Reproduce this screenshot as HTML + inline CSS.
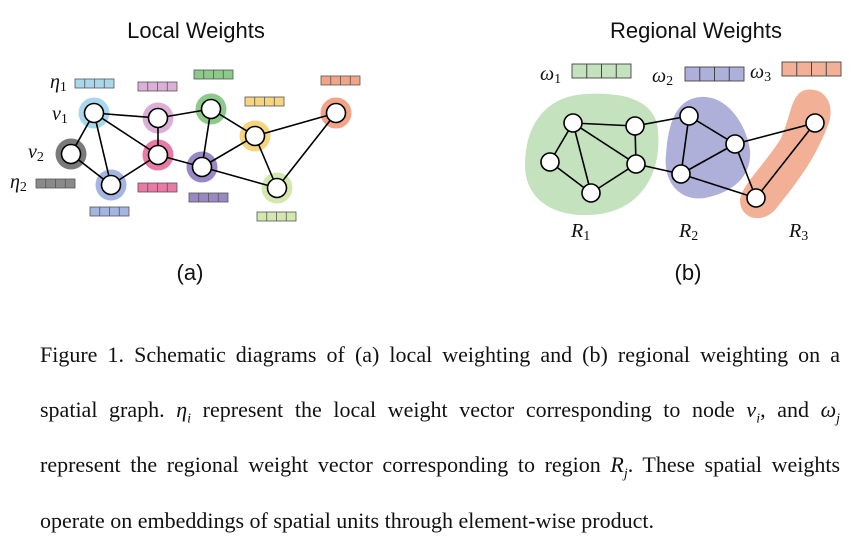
<!DOCTYPE html>
<html><head><meta charset="utf-8"><style>
body{margin:0;background:#fff;width:860px;height:552px;overflow:hidden;position:relative}
svg{position:absolute;left:0;top:0}
.cap{position:absolute;left:40px;width:800px;font-family:"Liberation Serif",serif;font-size:22px;line-height:24px;color:#111;white-space:nowrap}
.j{text-align:justify;text-align-last:justify}
i{font-style:italic}
sub{font-size:14px;line-height:0}
</style></head><body>
<svg width="860" height="300" viewBox="0 0 860 300" font-family="Liberation Sans, sans-serif">
<defs>
<g id="bar"><rect x="0" y="0" width="39" height="9" stroke="#555" stroke-width="0.8"/><line x1="9.75" y1="0" x2="9.75" y2="9" stroke="#555" stroke-width="0.8"/><line x1="19.5" y1="0" x2="19.5" y2="9" stroke="#555" stroke-width="0.8"/><line x1="29.25" y1="0" x2="29.25" y2="9" stroke="#555" stroke-width="0.8"/></g>
<g id="barw"><rect x="0" y="0" width="59" height="14" stroke="#444" stroke-width="0.9"/><line x1="14.75" y1="0" x2="14.75" y2="14" stroke="#444"/><line x1="29.5" y1="0" x2="29.5" y2="14" stroke="#444"/><line x1="44.25" y1="0" x2="44.25" y2="14" stroke="#444"/></g>
</defs>
<text x="196" y="38" font-size="22" text-anchor="middle" fill="#111">Local Weights</text>
<text x="696" y="38" font-size="22" text-anchor="middle" fill="#111">Regional Weights</text>
<text x="190" y="280" font-size="22" text-anchor="middle" fill="#111">(a)</text>
<text x="688" y="280" font-size="22" text-anchor="middle" fill="#111">(b)</text>
<g stroke-width="0">
<circle cx="94" cy="113" r="15.5" fill="#a9d8ec"/>
<circle cx="71" cy="154" r="15.5" fill="#7a7a7a"/>
<circle cx="111" cy="185" r="15.5" fill="#a3b5e0"/>
<circle cx="158" cy="118" r="15.5" fill="#dcb0d6"/>
<circle cx="158" cy="155" r="15.5" fill="#e87aa6"/>
<circle cx="211" cy="109" r="15.5" fill="#8cc98a"/>
<circle cx="202" cy="167" r="15.5" fill="#9a88c4"/>
<circle cx="255" cy="136" r="15.5" fill="#f5d67e"/>
<circle cx="336" cy="113" r="15.5" fill="#f3a486"/>
<circle cx="277" cy="188" r="15.5" fill="#d3e8ae"/>
</g>
<g stroke="#000" stroke-width="1.6">
<line x1="94" y1="113" x2="71" y2="154"/><line x1="94" y1="113" x2="111" y2="185"/><line x1="94" y1="113" x2="158" y2="118"/><line x1="94" y1="113" x2="158" y2="155"/>
<line x1="71" y1="154" x2="111" y2="185"/><line x1="111" y1="185" x2="158" y2="155"/><line x1="158" y1="118" x2="158" y2="155"/><line x1="158" y1="118" x2="211" y2="109"/>
<line x1="158" y1="155" x2="202" y2="167"/><line x1="211" y1="109" x2="202" y2="167"/><line x1="211" y1="109" x2="255" y2="136"/><line x1="202" y1="167" x2="255" y2="136"/>
<line x1="202" y1="167" x2="277" y2="188"/><line x1="255" y1="136" x2="336" y2="113"/><line x1="255" y1="136" x2="277" y2="188"/><line x1="336" y1="113" x2="277" y2="188"/>
</g>
<g fill="#fff" stroke="#000" stroke-width="1.6">
<circle cx="94" cy="113" r="9.5"/><circle cx="71" cy="154" r="9.5"/><circle cx="111" cy="185" r="9.5"/><circle cx="158" cy="118" r="9.5"/><circle cx="158" cy="155" r="9.5"/><circle cx="211" cy="109" r="9.5"/><circle cx="202" cy="167" r="9.5"/><circle cx="255" cy="136" r="9.5"/><circle cx="336" cy="113" r="9.5"/><circle cx="277" cy="188" r="9.5"/>
</g>
<use href="#bar" x="75" y="79" fill="#a9d8ec"/>
<use href="#bar" x="138" y="82" fill="#dcb0d6"/>
<use href="#bar" x="194" y="70" fill="#8cc98a"/>
<use href="#bar" x="245" y="97" fill="#f5d67e"/>
<use href="#bar" x="321" y="76" fill="#f3a486"/>
<use href="#bar" x="36" y="179" fill="#8a8a8a"/>
<use href="#bar" x="138" y="183" fill="#e87aa6"/>
<use href="#bar" x="90" y="207" fill="#a3b5e0"/>
<use href="#bar" x="189" y="193" fill="#9a88c4"/>
<use href="#bar" x="257" y="212" fill="#d3e8ae"/>
<g font-family="Liberation Serif, serif" font-style="italic" font-size="20" fill="#111">
<text x="50" y="88">η<tspan font-size="14" font-style="normal" dy="3">1</tspan></text>
<text x="52" y="120">v<tspan font-size="14" font-style="normal" dy="3">1</tspan></text>
<text x="28" y="158">v<tspan font-size="14" font-style="normal" dy="3">2</tspan></text>
<text x="10" y="188">η<tspan font-size="14" font-style="normal" dy="3">2</tspan></text>
<text x="540" y="80">ω<tspan font-size="14" font-style="normal" dy="3">1</tspan></text>
<text x="652" y="82">ω<tspan font-size="14" font-style="normal" dy="3">2</tspan></text>
<text x="750" y="78">ω<tspan font-size="14" font-style="normal" dy="3">3</tspan></text>
<text x="571" y="237">R<tspan font-size="14" font-style="normal" dy="3">1</tspan></text>
<text x="679" y="237">R<tspan font-size="14" font-style="normal" dy="3">2</tspan></text>
<text x="789" y="237">R<tspan font-size="14" font-style="normal" dy="3">3</tspan></text>
</g>
<path d="M585,94 C620,92 655,98 658,130 C662,175 640,208 600,214 C555,220 525,200 525,165 C525,120 550,96 585,94 Z" fill="#c4e2bd"/>
<path d="M700,97 C725,95 745,120 750,150 C752,175 735,192 705,198 C678,202 663,180 666,155 C668,120 678,99 700,97 Z" fill="#aeb0da"/>
<path d="M805,90 C825,86 836,105 828,125 C815,160 795,185 775,210 C760,225 740,218 740,200 C742,185 760,170 780,140 C792,115 790,95 805,90 Z" fill="#f2b196"/>
<g stroke="#000" stroke-width="1.6">
<line x1="573" y1="123" x2="635" y2="126"/><line x1="573" y1="123" x2="550" y2="162"/><line x1="573" y1="123" x2="591" y2="193"/><line x1="573" y1="123" x2="636" y2="164"/>
<line x1="635" y1="126" x2="636" y2="164"/><line x1="550" y1="162" x2="591" y2="193"/><line x1="591" y1="193" x2="636" y2="164"/><line x1="635" y1="126" x2="689" y2="116"/>
<line x1="636" y1="164" x2="681" y2="174"/><line x1="689" y1="116" x2="681" y2="174"/><line x1="689" y1="116" x2="735" y2="144"/><line x1="735" y1="144" x2="681" y2="174"/>
<line x1="735" y1="144" x2="815" y2="123"/><line x1="735" y1="144" x2="756" y2="198"/><line x1="681" y1="174" x2="756" y2="198"/><line x1="815" y1="123" x2="756" y2="198"/>
</g>
<g fill="#fff" stroke="#000" stroke-width="1.6">
<circle cx="573" cy="123" r="9"/><circle cx="635" cy="126" r="9"/><circle cx="550" cy="162" r="9"/><circle cx="636" cy="164" r="9"/><circle cx="591" cy="193" r="9"/><circle cx="689" cy="116" r="9"/><circle cx="735" cy="144" r="9"/><circle cx="681" cy="174" r="9"/><circle cx="815" cy="123" r="9"/><circle cx="756" cy="198" r="9"/>
</g>
<use href="#barw" x="572" y="64" fill="#c4e2bd"/>
<use href="#barw" x="685" y="67" fill="#aeb0da"/>
<use href="#barw" x="782" y="62" fill="#f2b196"/>
</svg>
<div class="cap j" style="top:343px">Figure 1. Schematic diagrams of (a) local weighting and (b) regional weighting on a</div>
<div class="cap j" style="top:398px">spatial graph. <i>η<sub>i</sub></i> represent the local weight vector corresponding to node <i>v<sub>i</sub></i>, and <i>ω<sub>j</sub></i></div>
<div class="cap j" style="top:453px">represent the regional weight vector corresponding to region <i>R<sub>j</sub></i>. These spatial weights</div>
<div class="cap" style="top:509px">operate on embeddings of spatial units through element-wise product.</div>
</body></html>
